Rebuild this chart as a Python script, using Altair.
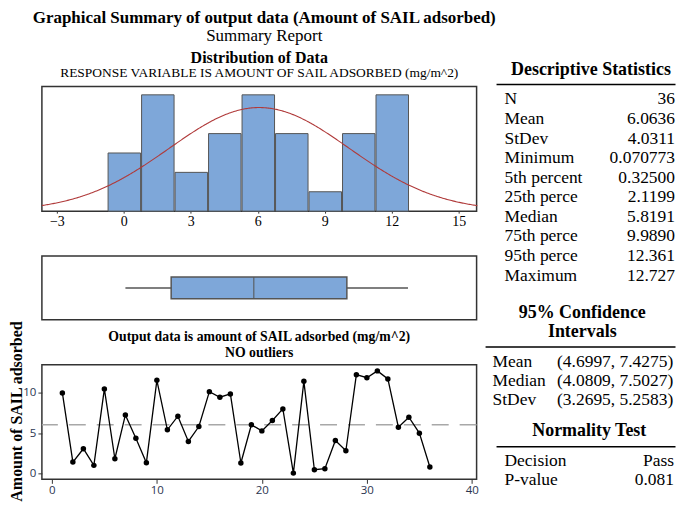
import altair as alt
import pandas as pd

# ---------------- data ----------------
obs = [10.0, 1.44, 3.09, 1.03, 10.5, 1.85, 7.28, 4.4, 1.36, 11.56,
       5.43, 7.12, 3.99, 5.84, 10.16, 9.47, 9.88, 1.32, 6.05, 5.3,
       6.58, 8.02, 0.07, 11.44, 0.49, 0.62, 4.12, 2.84, 12.26, 11.89,
       12.73, 11.73, 5.76, 7.0, 5.02, 0.82]
obs_index = list(range(1, len(obs) + 1))

N_OBS = 36
MEAN = 6.0636
SD = 4.0311
box_stats = [0.070773, 2.1199, 5.8191, 9.9890, 12.727]  # min, q1, median, q3, max

stat_labels = ["N", "Mean", "StDev", "Minimum", "5th percent", "25th perce",
               "Median", "75th perce", "95th perce", "Maximum"]
stat_values = ["36", "6.0636", "4.0311", "0.070773", "0.32500", "2.1199",
               "5.8191", "9.9890", "12.361", "12.727"]
ci_labels = ["Mean", "Median", "StDev"]
ci_values = ["(4.6997, 7.4275)", "(4.0809, 7.5027)", "(3.2695, 5.2583)"]
norm_labels = ["Decision", "P-value"]
norm_values = ["Pass", "0.081"]

hist_ticks = [-3, 0, 3, 6, 9, 12, 15]
ts_xticks = [0, 10, 20, 30, 40]
ts_yticks = [0, 5, 10]

# ---------------- styles ----------------
SERIF = "Liberation Serif"
SANS = "Open Sans"
BLUE = "#7ea7d9"
EDGE = "#555555"
FRAME = "#333333"
TICKCOL = "#2a3550"
ROW_FS = 17.5
HEAD_FS = 18

# page x of the plot's left edge (the y-axis title sets the left bound)
OX = 41


def rx(x):
    return x - OX


def ry(y, top=87):
    return y - top


def text_mark(text, xc, y, size, bold=False, align="center"):
    d = pd.DataFrame({"t": [text]})
    return alt.Chart(d).mark_text(
        align=align, baseline="middle", font=SERIF, fontSize=size,
        fontWeight="bold" if bold else "normal", color="black"
    ).encode(x=alt.value(xc), y=alt.value(y), text="t:N")


def rows_layer(labels, x, align, y0, y1, fname):
    d = pd.DataFrame({"k": list(range(len(labels))), fname: labels})
    return alt.Chart(d).mark_text(
        align=align, baseline="middle", font=SERIF, fontSize=ROW_FS, color="black"
    ).encode(
        x=alt.value(x),
        y=alt.Y("k:Q", scale=alt.Scale(domain=[0, len(labels) - 1], range=[y0, y1]), axis=None),
        text=f"{fname}:N",
    )


def hline(x0, x1, y):
    d = pd.DataFrame({"k": [0]})
    return alt.Chart(d).mark_rule(color="black", strokeWidth=1.5).encode(
        x=alt.value(x0), x2=alt.value(x1), y=alt.value(y)
    )


# ---------------- histogram panel ----------------
hist_x = alt.Scale(domain=[-3.67, 15.8], nice=False, zero=False)
hist_axis = alt.Axis(values=hist_ticks, title=None, domain=False, grid=False,
                     labelFont=SERIF, labelFontSize=14, labelColor="black",
                     tickSize=2, tickColor=FRAME, labelPadding=1)
count_scale = alt.Scale(domain=[0, 6.43], nice=False, zero=True)

df = pd.DataFrame({"i": obs_index, "v": obs})

bars = alt.Chart(df).mark_bar(color=BLUE, stroke=EDGE, strokeWidth=1).encode(
    x=alt.X("v:Q", bin=alt.Bin(extent=[-0.75, 12.75], step=1.5, nice=False),
            scale=hist_x, axis=hist_axis),
    y=alt.Y("count():Q", scale=count_scale, axis=None),
)

curve = alt.Chart(alt.sequence(-3.67, 15.85, 0.05, as_="x")).transform_calculate(
    d=f"{N_OBS} * 1.5 * densityNormal(datum.x, {MEAN}, {SD})"
).mark_line(color="#b03a3a", strokeWidth=1.1).encode(
    x=alt.X("x:Q", scale=hist_x, axis=hist_axis),
    y=alt.Y("d:Q", scale=count_scale, axis=None),
)

hist_titles = [
    text_mark("Distribution of Data", 218, ry(58), 16, bold=True),
    text_mark("RESPONSE VARIABLE IS AMOUNT OF SAIL ADSORBED (mg/m^2)", 218, ry(73), 13.5),
]

table = [
    text_mark("Descriptive Statistics", rx(591.7), ry(70), HEAD_FS, bold=True),
    hline(rx(497), rx(676.5), ry(85)),
    rows_layer(stat_labels, rx(505), "left", ry(100), ry(276.7), "lab"),
    rows_layer(stat_values, rx(676), "right", ry(100), ry(276.7), "val"),
    text_mark("95% Confidence", rx(583), ry(314), HEAD_FS, bold=True),
    text_mark("Intervals", rx(583), ry(333.5), HEAD_FS, bold=True),
    hline(rx(486), rx(676.5), ry(348.3)),
    rows_layer(ci_labels, rx(493), "left", ry(363.3), ry(401.7), "lab"),
    rows_layer(ci_values, rx(674.3), "right", ry(363.3), ry(401.7), "val"),
    text_mark("Normality Test", rx(590), ry(432.7), HEAD_FS, bold=True),
    hline(rx(497), rx(676.5), ry(448.3)),
    rows_layer(norm_labels, rx(505), "left", ry(462.5), ry(481.5), "lab"),
    rows_layer(norm_values, rx(675), "right", ry(462.5), ry(481.5), "val"),
]

hist = alt.layer(bars, curve, *hist_titles, *table).resolve_scale(
    y="independent").properties(width=436, height=125)

# ---------------- boxplot panel ----------------
box_df = pd.DataFrame({"row": ["a"], "mn": [box_stats[0]], "q1": [box_stats[1]],
                       "med": [box_stats[2]], "q3": [box_stats[3]], "mx": [box_stats[4]]})
box_x = alt.Scale(domain=[-3.67, 15.8], nice=False, zero=False)
row_y = alt.Y("row:N", axis=None)

whisk = alt.Chart(box_df).mark_rule(color=EDGE, strokeWidth=1.5).encode(
    x=alt.X("mn:Q", scale=box_x, axis=None), x2="mx:Q", y=row_y)
boxbar = alt.Chart(box_df).mark_bar(size=22, color=BLUE, stroke=EDGE, strokeWidth=1.5).encode(
    x=alt.X("q1:Q", scale=box_x, axis=None), x2="q3:Q", y=row_y)
med = alt.Chart(box_df).mark_tick(color=EDGE, thickness=1.5, size=22).encode(
    x=alt.X("med:Q", scale=box_x, axis=None), y=row_y)

box = alt.layer(whisk, boxbar, med).properties(width=436, height=64)

# ---------------- time-series panel ----------------
ts_x = alt.Scale(domain=[-0.95, 40.45], nice=False, zero=False)
ts_y = alt.Scale(domain=[-0.7, 13.5], nice=False, zero=False)
x_axis = alt.Axis(values=ts_xticks, title=None, domain=False, grid=False,
                  labelFont=SANS, labelFontSize=11.5, labelColor=TICKCOL,
                  tickSize=4, tickColor=FRAME, labelPadding=1)
y_axis = alt.Axis(values=ts_yticks, title="Amount of SAIL adsorbed", domain=False, grid=False,
                  labelFont=SANS, labelFontSize=11.5, labelColor=TICKCOL,
                  tickSize=4, tickColor=FRAME, labelPadding=2,
                  titleFont=SERIF, titleFontSize=16, titleFontWeight="bold",
                  titleColor="black", titleAngle=270, titleX=-17, titleY=46.5,
                  titleBaseline="bottom", titleAlign="center")

mean_rule = alt.Chart(pd.DataFrame({"m": [MEAN]})).mark_rule(
    color="#a8a8a8", strokeWidth=1.5, strokeDash=[17, 11]
).encode(y=alt.Y("m:Q", scale=ts_y, axis=y_axis))

ts_line = alt.Chart(df).mark_line(color="black", strokeWidth=1.3).encode(
    x=alt.X("i:Q", scale=ts_x, axis=x_axis),
    y=alt.Y("v:Q", scale=ts_y, axis=y_axis),
)
ts_pts = alt.Chart(df).mark_point(filled=True, color="black", size=30, opacity=1).encode(
    x=alt.X("i:Q", scale=ts_x, axis=x_axis),
    y=alt.Y("v:Q", scale=ts_y, axis=y_axis),
)

ts_titles = [
    text_mark("Output data is amount of SAIL adsorbed (mg/m^2)", 218, ry(338, 366), 13.8, bold=True),
    text_mark("NO outliers", 218, ry(354, 366), 13.8, bold=True),
]

ts = alt.layer(mean_rule, ts_line, ts_pts, *ts_titles).properties(width=436, height=115)

chart = alt.vconcat(
    hist, box, ts, spacing=45, bounds="flush",
    title=alt.TitleParams(
        "Graphical Summary of output data (Amount of SAIL adsorbed)",
        subtitle="Summary Report",
        font=SERIF, fontSize=17, fontWeight="bold", color="black",
        subtitleFont=SERIF, subtitleFontSize=17, subtitleColor="black",
        subtitlePadding=1, anchor="middle", frame="group", dx=5, offset=4,
    ),
).properties(padding=0).configure_view(stroke=FRAME, strokeWidth=1.5)

chart.save("out.html", embed_options={"renderer": "svg", "actions": False})
